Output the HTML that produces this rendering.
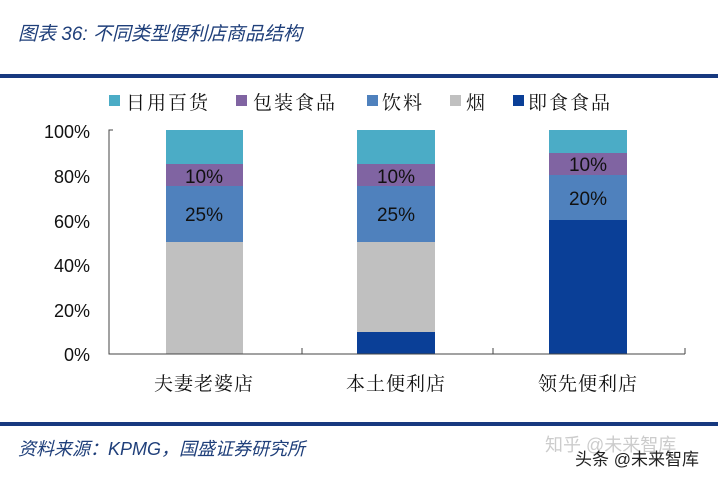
<!DOCTYPE html>
<html><head><meta charset="utf-8"><style>
body{margin:0;width:718px;height:478px;background:#fff;overflow:hidden}
svg{display:block}
.s{font-family:"Liberation Serif","Noto Serif CJK SC",serif}
</style></head><body>
<svg width="718" height="478" xmlns="http://www.w3.org/2000/svg" font-family="Liberation Sans, Noto Sans CJK SC, sans-serif">
<text x="18" y="40" font-size="19" font-style="italic" fill="#1f3f7a">图表 36:  不同类型便利店商品结构</text>
<rect x="0" y="74" width="718" height="4" fill="#17397f"/>
<g font-size="19" fill="#111" class="s" letter-spacing="2">
<rect x="109" y="95" width="11" height="11" fill="#4bacc6"/><text x="126" y="109">日用百货</text>
<rect x="236" y="95" width="11" height="11" fill="#8064a2"/><text x="253" y="109">包装食品</text>
<rect x="367" y="95" width="11" height="11" fill="#4f81bd"/><text x="382" y="109">饮料</text>
<rect x="450" y="95" width="11" height="11" fill="#c0c0c0"/><text x="466" y="109">烟</text>
<rect x="513" y="95" width="11" height="11" fill="#0a3f97"/><text x="528" y="109">即食食品</text>
</g>
<g font-size="18" fill="#111" text-anchor="end">
<text x="90" y="138">100%</text><text x="90" y="183">80%</text><text x="90" y="228">60%</text>
<text x="90" y="272">40%</text><text x="90" y="317">20%</text><text x="90" y="361">0%</text>
</g>
<rect x="166" y="242" width="77" height="112" fill="#c0c0c0"/>
<rect x="166" y="186" width="77" height="56" fill="#4f81bd"/>
<rect x="166" y="164" width="77" height="22" fill="#8064a2"/>
<rect x="166" y="130" width="77" height="34" fill="#4bacc6"/>
<rect x="357" y="332" width="78" height="22" fill="#0a3f97"/>
<rect x="357" y="242" width="78" height="90" fill="#c0c0c0"/>
<rect x="357" y="186" width="78" height="56" fill="#4f81bd"/>
<rect x="357" y="164" width="78" height="22" fill="#8064a2"/>
<rect x="357" y="130" width="78" height="34" fill="#4bacc6"/>
<rect x="549" y="220" width="78" height="134" fill="#0a3f97"/>
<rect x="549" y="175" width="78" height="45" fill="#4f81bd"/>
<rect x="549" y="153" width="78" height="22" fill="#8064a2"/>
<rect x="549" y="130" width="78" height="23" fill="#4bacc6"/>
<g font-size="19" fill="#111" text-anchor="middle">
<text x="204" y="183">10%</text><text x="204" y="221">25%</text>
<text x="396" y="183">10%</text><text x="396" y="221">25%</text>
<text x="588" y="171">10%</text><text x="588" y="205">20%</text>
</g>
<g stroke="#444" stroke-width="1" fill="none">
<path d="M113 130H109V354H685"/>
<path d="M302 354V348M493 354V348M685 354V348"/>
</g>
<g font-size="19" fill="#111" text-anchor="middle" class="s" letter-spacing="1">
<text x="204" y="390">夫妻老婆店</text><text x="396" y="390">本土便利店</text><text x="588" y="390">领先便利店</text>
</g>
<rect x="0" y="422" width="718" height="4" fill="#17397f"/>
<text x="18" y="455" font-size="18" font-style="italic" fill="#1f3f7a">资料来源：KPMG，国盛证券研究所</text>
<text x="545" y="451" font-size="18" fill="#ccc">知乎 @未来智库</text>
<text x="575" y="465" font-size="17" fill="#222">头条 @未来智库</text>
</svg>
</body></html>
